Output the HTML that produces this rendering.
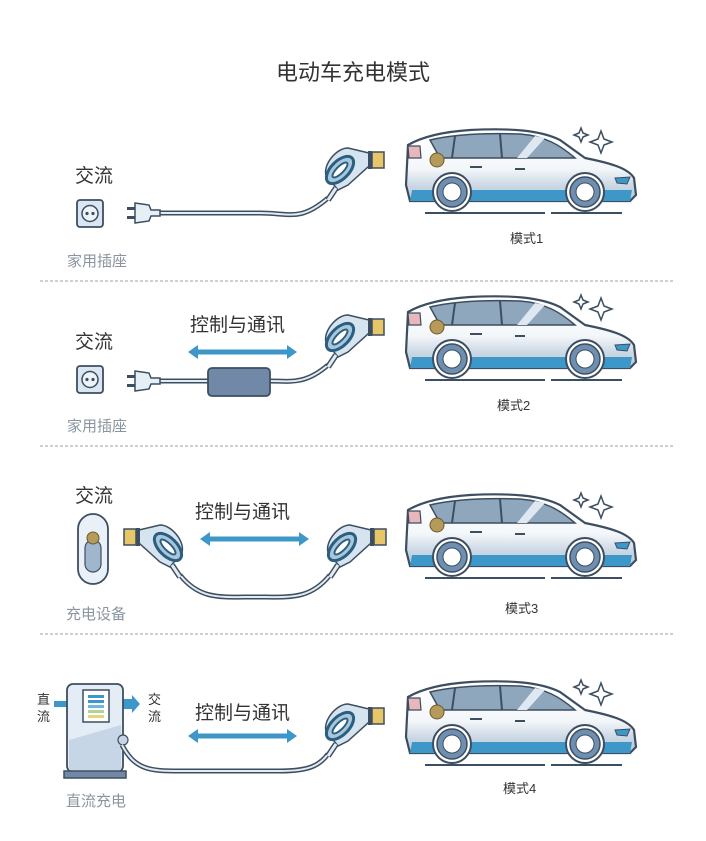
<!DOCTYPE html>
<html><head><meta charset="utf-8"><style>
html,body{margin:0;padding:0;background:#fff}
svg{display:block}
text{font-family:"Liberation Sans","Noto Sans CJK SC",sans-serif}
</style></head><body>
<svg width="706" height="841" viewBox="0 0 706 841" xmlns="http://www.w3.org/2000/svg">
<defs>
<linearGradient id="bodyg" x1="0" y1="0" x2="0" y2="1">
<stop offset="0" stop-color="#ffffff"/><stop offset="0.55" stop-color="#f4f7fa"/><stop offset="0.8" stop-color="#c9d6e3"/><stop offset="1" stop-color="#b8c8d8"/>
</linearGradient>
<g id="car">
<path d="M408,145 C420,138 440,132 470,130 C510,128 540,130 560,140 L585,158 C610,163 628,168 634,178 L636,195 L630,201 L410,201 L406,185 Z" fill="url(#bodyg)" stroke="#3d4e60" stroke-width="2.2"/>
<path d="M412,190 L632,190 L630,201 L410,201 Z" fill="#3d97c9"/>
<path d="M430,140 C455,134 490,133 520,134 C545,136 560,145 575,158 L440,158 Z" fill="#8fa7bd" stroke="#3d4e60" stroke-width="1.5"/>
<line x1="455" y1="136" x2="452" y2="158" stroke="#3d4e60" stroke-width="2"/>
<line x1="500" y1="134" x2="502" y2="158" stroke="#3d4e60" stroke-width="2"/>
<path d="M517,158 L535,136 L545,138 L527,158 Z" fill="#dfe8f0"/>
<rect x="470" y="166" width="12" height="2" fill="#3d4e60"/>
<rect x="515" y="168" width="10" height="2" fill="#3d4e60"/>
<path d="M408,146 L420,146 L421,158 L409,158 Z" fill="#e8b6bd" stroke="#3d4e60" stroke-width="1.2"/>
<circle cx="437" cy="160" r="7" fill="#b59a5a" stroke="#6b5a30" stroke-width="1"/>
<path d="M615,178 L630,177 L627,184 L617,183 Z" fill="#3d97c9" stroke="#3d4e60" stroke-width="1"/>
<circle cx="452" cy="192" r="19" fill="#fff" stroke="#3d4e60" stroke-width="2"/>
<circle cx="452" cy="192" r="15" fill="#6f8fb0" stroke="#3d4e60" stroke-width="1.5"/>
<circle cx="452" cy="192" r="9" fill="#fff" stroke="#3d4e60" stroke-width="1"/>
<circle cx="585" cy="192" r="19" fill="#fff" stroke="#3d4e60" stroke-width="2"/>
<circle cx="585" cy="192" r="15" fill="#6f8fb0" stroke="#3d4e60" stroke-width="1.5"/>
<circle cx="585" cy="192" r="9" fill="#fff" stroke="#3d4e60" stroke-width="1"/>
<line x1="425" y1="213" x2="545" y2="213" stroke="#3d4e60" stroke-width="2"/>
<line x1="551" y1="213" x2="622" y2="213" stroke="#3d4e60" stroke-width="2"/>
<path d="M581,128 L583,133 L588,135 L583,137 L581,142 L579,137 L574,135 L579,133 Z" fill="#fff" stroke="#3d4e60" stroke-width="1.5"/>
<path d="M601,131 L604,139 L612,142 L604,145 L601,153 L598,145 L590,142 L598,139 Z" fill="#fff" stroke="#3d4e60" stroke-width="1.5"/>
</g>
<g id="noz">
<path d="M-9,-7 L-30,-12 C-42,-12 -55,5 -52,15 L-40,30 L-30,25 L-9,6 Z" fill="#d6e4f0" stroke="#3d4e60" stroke-width="1.5"/>
<rect x="-10" y="-9" width="4" height="18" fill="#3d4e60"/>
<rect x="-6" y="-8" width="12" height="16" fill="#e7c66a" stroke="#3d4e60" stroke-width="1.5"/>
<ellipse cx="-38" cy="10" rx="17" ry="9" transform="rotate(-45 -38 10)" fill="#a9c7dc" stroke="#2b5f80" stroke-width="3"/>
<ellipse cx="-38" cy="10" rx="10" ry="3.5" transform="rotate(-45 -38 10)" fill="#fff" stroke="#2b5f80" stroke-width="2"/>
<path d="M-42,28 L-50,40" stroke="#3d4e60" stroke-width="6"/>
<path d="M-42,28 L-50,40" stroke="#e2eaf2" stroke-width="3"/>
</g>
<g id="sock">
<rect x="0" y="0" width="26" height="27" rx="3" fill="#dbe6f3" stroke="#3d4e60" stroke-width="1.8"/>
<circle cx="13" cy="13.5" r="8" fill="#eef3f9" stroke="#3d4e60" stroke-width="1.5"/>
<circle cx="10" cy="13.5" r="1.6" fill="#3d4e60"/><circle cx="16" cy="13.5" r="1.6" fill="#3d4e60"/>
</g>
<g id="plug">
<rect x="0" y="-6" width="8" height="3" fill="#3d4e60"/><rect x="0" y="3" width="8" height="3" fill="#3d4e60"/>
<path d="M8,-10 L22,-8 L24,-3 L33,-3 L33,3 L24,3 L22,8 L8,10 Z" fill="#e6eef6" stroke="#3d4e60" stroke-width="1.5"/>
</g>
<g id="arr">
<path d="M0,0 L10,-7 L10,-2.5 L99,-2.5 L99,-7 L109,0 L99,7 L99,2.5 L10,2.5 L10,7 Z" fill="#3d97c9"/>
</g>
</defs>

<text x="353" y="80" text-anchor="middle" font-size="22" fill="#333">电动车充电模式</text>

<!-- separators -->
<g stroke="#9aa3ad" stroke-width="1" stroke-dasharray="3,2">
<line x1="40" y1="281" x2="673" y2="281"/><line x1="40" y1="446" x2="673" y2="446"/><line x1="40" y1="634" x2="673" y2="634"/>
</g>

<!-- cars -->
<use href="#car"/>
<use href="#car" transform="translate(0,167)"/>
<use href="#car" transform="translate(0,365)"/>
<use href="#car" transform="translate(0,552)"/>
<g font-size="13" fill="#333">
<text x="510" y="243">模式1</text><text x="497" y="410">模式2</text><text x="505" y="613">模式3</text><text x="503" y="793">模式4</text>
</g>

<!-- section 1 -->
<text x="75" y="182" font-size="19" fill="#333">交流</text>
<use href="#sock" transform="translate(77,200)"/>
<text x="67" y="266" font-size="15" fill="#8a95a0">家用插座</text>
<path d="M328,198 C300,222 290,213 260,213 L160,213" fill="none" stroke="#3d4e60" stroke-width="5"/>
<path d="M328,198 C300,222 290,213 260,213 L160,213" fill="none" stroke="#e2eaf2" stroke-width="2"/>
<use href="#plug" transform="translate(127,213)"/>
<use href="#noz" transform="translate(378,160)"/>

<!-- section 2 -->
<text x="75" y="348" font-size="19" fill="#333">交流</text>
<use href="#sock" transform="translate(77,366)"/>
<text x="67" y="431" font-size="15" fill="#8a95a0">家用插座</text>
<text x="190" y="331" font-size="19" fill="#333">控制与通讯</text>
<use href="#arr" transform="translate(188,352)"/>
<path d="M328,365 C305,385 290,381 270,381 L160,381" fill="none" stroke="#3d4e60" stroke-width="5"/>
<path d="M328,365 C305,385 290,381 270,381 L160,381" fill="none" stroke="#e2eaf2" stroke-width="2"/>
<rect x="208" y="368" width="62" height="28" rx="4" fill="#7189a6" stroke="#3d4e60" stroke-width="1.8"/>
<use href="#plug" transform="translate(127,381)"/>
<use href="#noz" transform="translate(378,327)"/>

<!-- section 3 -->
<text x="75" y="502" font-size="19" fill="#333">交流</text>
<rect x="78" y="514" width="30" height="70" rx="15" fill="#e9f0f7" stroke="#3d4e60" stroke-width="1.8"/>
<rect x="85" y="540" width="16" height="32" rx="8" fill="#9fb6cc" stroke="#3d4e60" stroke-width="1.2"/>
<circle cx="93" cy="538" r="6" fill="#b59a5a" stroke="#6b5a30" stroke-width="1"/>
<text x="66" y="619" font-size="15" fill="#8a95a0">充电设备</text>
<text x="195" y="518" font-size="19" fill="#333">控制与通讯</text>
<use href="#arr" transform="translate(200,539)"/>
<path d="M180,575 C200,600 220,597 255,597 C290,597 310,600 330,575" fill="none" stroke="#3d4e60" stroke-width="5"/>
<path d="M180,575 C200,600 220,597 255,597 C290,597 310,600 330,575" fill="none" stroke="#e2eaf2" stroke-width="2"/>
<use href="#noz" transform="translate(130,537) scale(-1,1)"/>
<use href="#noz" transform="translate(380,537)"/>

<!-- section 4 -->
<text x="37" y="704" font-size="13" fill="#333">直</text><text x="37" y="721" font-size="13" fill="#333">流</text>
<text x="148" y="704" font-size="13" fill="#333">交</text><text x="148" y="721" font-size="13" fill="#333">流</text>
<path d="M54,701 L68,701 L68,707 L54,707 Z" fill="#3d97c9"/>
<path d="M122,699 L132,699 L132,695 L140,704 L132,713 L132,709 L122,709 Z" fill="#3d97c9"/>
<rect x="67" y="684" width="56" height="88" rx="6" fill="#e4edf6" stroke="#3d4e60" stroke-width="1.8"/>
<path d="M69,740 L121,725 L121,770 L69,770 Z" fill="#c6d6e6"/>
<rect x="83" y="690" width="26" height="32" fill="#fff" stroke="#3d4e60" stroke-width="1.5"/>
<rect x="88" y="695" width="16" height="3" fill="#3d97c9"/><rect x="88" y="700" width="16" height="3" fill="#3d97c9"/>
<rect x="88" y="705" width="16" height="3" fill="#6fb8d8"/><rect x="88" y="710" width="16" height="3" fill="#a8d5a0"/><rect x="88" y="715" width="16" height="3" fill="#e7d47a"/>
<rect x="64" y="771" width="62" height="7" fill="#7189a6" stroke="#3d4e60" stroke-width="1.5"/>
<circle cx="123" cy="740" r="5" fill="#c6d6e6" stroke="#3d4e60" stroke-width="1.2"/>
<text x="66" y="806" font-size="15" fill="#8a95a0">直流充电</text>
<text x="195" y="719" font-size="19" fill="#333">控制与通讯</text>
<use href="#arr" transform="translate(188,736)"/>
<path d="M122,745 C135,770 150,771 180,771 L280,771 C310,771 320,765 328,754" fill="none" stroke="#3d4e60" stroke-width="5"/>
<path d="M122,745 C135,770 150,771 180,771 L280,771 C310,771 320,765 328,754" fill="none" stroke="#e2eaf2" stroke-width="2"/>
<use href="#noz" transform="translate(378,716)"/>
</svg>
</body></html>
